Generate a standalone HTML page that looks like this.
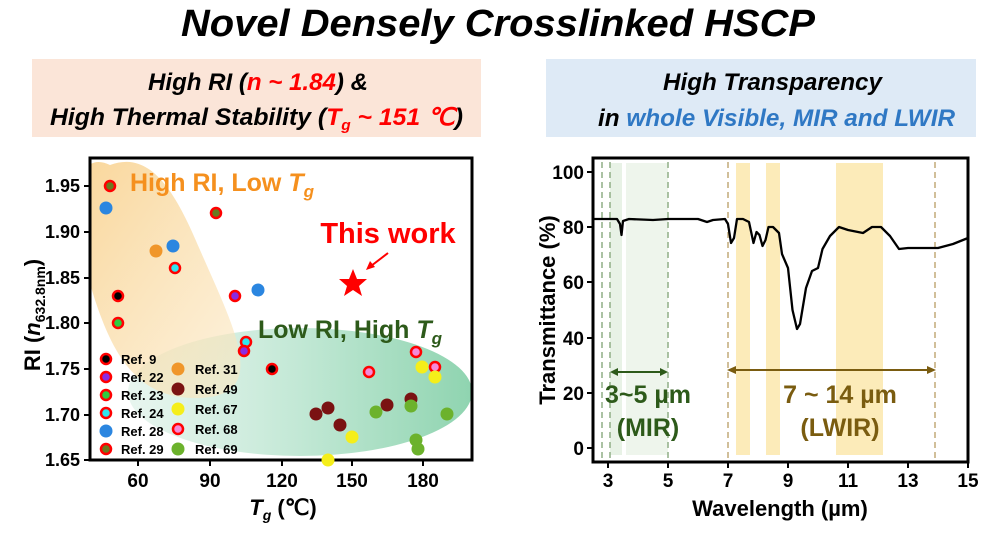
<!DOCTYPE html>
<html><head><meta charset="utf-8"><style>
html,body{margin:0;padding:0;background:#fff;}
svg text{font-family:"Liberation Sans",sans-serif;font-weight:bold;}
</style></head><body>
<svg width="996" height="533" viewBox="0 0 996 533" xmlns="http://www.w3.org/2000/svg">
<defs>
<linearGradient id="gg" x1="0" x2="1" y1="0" y2="0"><stop offset="0" stop-color="#d8efe4" stop-opacity="0.6"/><stop offset="0.5" stop-color="#c2e8d5"/><stop offset="1" stop-color="#8fd4b0"/></linearGradient>
<linearGradient id="og" x1="0" x2="1" y1="0" y2="1"><stop offset="0" stop-color="#f8cf88"/><stop offset="1" stop-color="#fbe9c6" stop-opacity="0.7"/></linearGradient>
</defs>
<text x="498" y="36" font-size="38" font-style="italic" text-anchor="middle" textLength="634" lengthAdjust="spacingAndGlyphs">Novel Densely Crosslinked HSCP</text>
<rect x="32" y="59" width="449" height="78" fill="#fbe5d8"/>
<rect x="546" y="59" width="430" height="78" fill="#deeaf6"/>
<g font-size="24" font-style="italic">
<text x="148" y="90" textLength="220" lengthAdjust="spacingAndGlyphs">High RI (<tspan fill="#f00">n ~ 1.84</tspan>) &amp;</text>
<text x="50" y="125" textLength="413" lengthAdjust="spacingAndGlyphs">High Thermal Stability (<tspan fill="#f00">T<tspan font-size="15" dy="5">g</tspan><tspan dy="-5">  ~  151 ℃</tspan></tspan>)</text>
<text x="663" y="90" textLength="219" lengthAdjust="spacingAndGlyphs">High Transparency</text>
<text x="598" y="126" textLength="357" lengthAdjust="spacingAndGlyphs">in <tspan fill="#2f78c4">whole Visible, MIR and LWIR</tspan></text>
</g>
<!-- LEFT PLOT -->
<clipPath id="cl"><rect x="90" y="158" width="382" height="302"/></clipPath>
<g clip-path="url(#cl)">
<ellipse cx="300" cy="392" rx="172" ry="64" fill="url(#gg)"/>
<path d="M110 165 C 80 150, 60 190, 95 300 C 115 360, 140 400, 200 398 C 270 395, 235 330, 200 250 C 175 190, 150 150, 110 165 Z" fill="url(#og)" opacity="0.85"/>
</g>
<rect x="90" y="158" width="382" height="302" fill="none" stroke="#000" stroke-width="3"/>
<g stroke="#000" stroke-width="2">
<line x1="84" y1="186" x2="90" y2="186"/><line x1="84" y1="232" x2="90" y2="232"/><line x1="84" y1="278" x2="90" y2="278"/><line x1="84" y1="323" x2="90" y2="323"/><line x1="84" y1="369" x2="90" y2="369"/><line x1="84" y1="415" x2="90" y2="415"/><line x1="84" y1="460" x2="90" y2="460"/>
<line x1="138" y1="460" x2="138" y2="466"/><line x1="210" y1="460" x2="210" y2="466"/><line x1="282" y1="460" x2="282" y2="466"/><line x1="352" y1="460" x2="352" y2="466"/><line x1="423" y1="460" x2="423" y2="466"/>
</g>
<g font-size="18" text-anchor="end">
<text x="80" y="192">1.95</text><text x="80" y="238">1.90</text><text x="80" y="284">1.85</text><text x="80" y="329">1.80</text><text x="80" y="375">1.75</text><text x="80" y="421">1.70</text><text x="80" y="466">1.65</text>
</g>
<g font-size="19" text-anchor="middle">
<text x="138" y="487">60</text><text x="210" y="487">90</text><text x="282" y="487">120</text><text x="352" y="487">150</text><text x="423" y="487">180</text>
</g>
<text x="283" y="515" font-size="22" text-anchor="middle"><tspan font-style="italic">T<tspan font-size="14" dy="5">g</tspan></tspan><tspan dy="-5"> (℃)</tspan></text>
<text transform="translate(40,315) rotate(-90)" font-size="22" text-anchor="middle">RI (<tspan font-style="italic">n</tspan><tspan font-size="14" dy="5">632.8nm</tspan><tspan dy="-5">)</tspan></text>
<text x="130" y="191" font-size="25" fill="#f5901e">High RI, Low <tspan font-style="italic">T<tspan font-size="17" dy="6">g</tspan></tspan></text>
<text x="258" y="338" font-size="25" fill="#2d5a1a">Low RI, High <tspan font-style="italic">T<tspan font-size="17" dy="6">g</tspan></tspan></text>
<text x="388" y="243" font-size="29" fill="#f00" text-anchor="middle">This work</text>
<line x1="388" y1="253" x2="371" y2="266" stroke="#f00" stroke-width="2"/><path d="M366 270 L370 261 L375 267 Z" fill="#f00"/>
<path d="M353 269 L357 279 L367 279 L359 286 L362 296 L353 290 L344 296 L347 286 L339 279 L349 279 Z" fill="#f00"/>
<g stroke="#f00" stroke-width="2.5">
<circle cx="110" cy="186" r="5" fill="#6b7a20"/><circle cx="216" cy="213" r="5" fill="#6b7a20"/>
<circle cx="175" cy="268" r="5" fill="#2ee6f0"/><circle cx="246" cy="342" r="5" fill="#2ee6f0"/>
<circle cx="118" cy="296" r="5" fill="#000"/><circle cx="272" cy="369" r="5" fill="#000"/>
<circle cx="235" cy="296" r="5" fill="#8a2be2"/><circle cx="244" cy="351" r="5" fill="#8a2be2"/>
<circle cx="118" cy="323" r="5" fill="#2ecc40"/>
<circle cx="416" cy="352" r="5" fill="#f58ad8"/><circle cx="435" cy="367" r="5" fill="#f58ad8"/><circle cx="369" cy="372" r="5" fill="#f58ad8"/>
</g>
<g>
<circle cx="106" cy="208" r="6.5" fill="#2b86e0"/><circle cx="173" cy="246" r="6.5" fill="#2b86e0"/><circle cx="258" cy="290" r="6.5" fill="#2b86e0"/>
<circle cx="156" cy="251" r="6.5" fill="#f0962a"/>
<circle cx="422" cy="367" r="6.5" fill="#f5ee1a"/><circle cx="435" cy="377" r="6.5" fill="#f5ee1a"/><circle cx="352" cy="437" r="6.5" fill="#f5ee1a"/><circle cx="328" cy="460" r="6.5" fill="#f5ee1a"/>
<circle cx="316" cy="414" r="6.5" fill="#7a1212"/><circle cx="328" cy="408" r="6.5" fill="#7a1212"/><circle cx="340" cy="425" r="6.5" fill="#7a1212"/><circle cx="387" cy="405" r="6.5" fill="#7a1212"/><circle cx="411" cy="399" r="6.5" fill="#7a1212"/>
<circle cx="376" cy="412" r="6.5" fill="#6cb22c"/><circle cx="411" cy="406" r="6.5" fill="#6cb22c"/><circle cx="447" cy="414" r="6.5" fill="#6cb22c"/><circle cx="416" cy="440" r="6.5" fill="#6cb22c"/><circle cx="418" cy="449" r="6.5" fill="#6cb22c"/>
</g>
<g stroke="#f00" stroke-width="2.5">
<circle cx="106" cy="359" r="5" fill="#000"/><circle cx="106" cy="377" r="5" fill="#8a2be2"/><circle cx="106" cy="395" r="5" fill="#2ecc40"/><circle cx="106" cy="413" r="5" fill="#2ee6f0"/><circle cx="106" cy="449" r="5" fill="#6b7a20"/>
<circle cx="178" cy="429" r="5" fill="#f58ad8"/>
</g>
<circle cx="106" cy="431" r="6.5" fill="#2b86e0"/>
<circle cx="178" cy="369" r="6.5" fill="#f0962a"/><circle cx="178" cy="389" r="6.5" fill="#7a1212"/><circle cx="178" cy="409" r="6.5" fill="#f5ee1a"/><circle cx="178" cy="449" r="6.5" fill="#6cb22c"/>
<g font-size="13">
<text x="121" y="364">Ref. 9</text><text x="121" y="382">Ref. 22</text><text x="121" y="400">Ref. 23</text><text x="121" y="418">Ref. 24</text><text x="121" y="436">Ref. 28</text><text x="121" y="454">Ref. 29</text>
<text x="195" y="374">Ref. 31</text><text x="195" y="394">Ref. 49</text><text x="195" y="414">Ref. 67</text><text x="195" y="434">Ref. 68</text><text x="195" y="454">Ref. 69</text>
</g>
<!-- RIGHT PLOT -->
<g>
<rect x="610" y="163" width="12" height="292" fill="#e8f2e6"/>
<rect x="626" y="163" width="42" height="292" fill="#eef5ec"/>
<rect x="736" y="163" width="14" height="292" fill="#fcebb9"/>
<rect x="766" y="163" width="14" height="292" fill="#fcebb9"/>
<rect x="836" y="163" width="47" height="292" fill="#fcebb9"/>
</g>
<g stroke-dasharray="6,4" stroke-width="1.5">
<line x1="602" y1="162" x2="602" y2="458" stroke="#8fae86"/><line x1="610" y1="162" x2="610" y2="458" stroke="#8fae86"/><line x1="668" y1="162" x2="668" y2="458" stroke="#8fae86"/>
<line x1="728" y1="162" x2="728" y2="458" stroke="#c2aa78"/><line x1="935" y1="162" x2="935" y2="458" stroke="#c2aa78"/>
</g>
<polyline fill="none" stroke="#000" stroke-width="2.3" stroke-linejoin="round" points="593,219 617,219 620,224 621.5,235 623,221 629,219 653,220 668,219 698,219 707,222 713,220 725,219 728,224 731,243 734,238 737,219 743,219 749,222 753.5,243 756.5,232 759.5,235 762.5,246 765.5,240 768.5,227 773,227 779,233 782,254 788,268 792.5,310 797,329 800,324 806,288 812,271 818,268 822.5,249 830,236 839,227 848,230 863,233 872,227 881,227 890,236 899,249 908,248 923,248 938,248 953,244 968,238"/>
<rect x="593" y="158" width="375" height="304" fill="none" stroke="#000" stroke-width="3"/>
<g stroke="#000" stroke-width="2">
<line x1="587" y1="172" x2="593" y2="172"/><line x1="587" y1="227" x2="593" y2="227"/><line x1="587" y1="282" x2="593" y2="282"/><line x1="587" y1="338" x2="593" y2="338"/><line x1="587" y1="393" x2="593" y2="393"/><line x1="587" y1="448" x2="593" y2="448"/>
<line x1="608" y1="462" x2="608" y2="468"/><line x1="668" y1="462" x2="668" y2="468"/><line x1="728" y1="462" x2="728" y2="468"/><line x1="788" y1="462" x2="788" y2="468"/><line x1="848" y1="462" x2="848" y2="468"/><line x1="908" y1="462" x2="908" y2="468"/><line x1="968" y1="462" x2="968" y2="468"/>
</g>
<g font-size="19" text-anchor="end">
<text x="584" y="179">100</text><text x="584" y="234">80</text><text x="584" y="289">60</text><text x="584" y="345">40</text><text x="584" y="400">20</text><text x="584" y="455">0</text>
</g>
<g font-size="19" text-anchor="middle">
<text x="608" y="487">3</text><text x="668" y="487">5</text><text x="728" y="487">7</text><text x="788" y="487">9</text><text x="848" y="487">11</text><text x="908" y="487">13</text><text x="968" y="487">15</text>
</g>
<text x="780" y="516" font-size="22" text-anchor="middle">Wavelength (µm)</text>
<text transform="translate(555,310) rotate(-90)" font-size="22" text-anchor="middle">Transmittance (%)</text>
<line x1="614" y1="372" x2="664" y2="372" stroke="#2d5a1a" stroke-width="2"/>
<path d="M610 372 L618 368 L618 376 Z M668 372 L660 368 L660 376 Z" fill="#2d5a1a"/>
<line x1="732" y1="370" x2="931" y2="370" stroke="#7a5c10" stroke-width="2"/>
<path d="M727 370 L736 366 L736 374 Z M936 370 L927 366 L927 374 Z" fill="#7a5c10"/>
<g font-size="25" text-anchor="middle">
<text x="648" y="403" fill="#2d5a1a">3~5 µm</text><text x="648" y="436" fill="#2d5a1a">(MIR)</text>
<text x="840" y="403" fill="#7a5c10">7 ~ 14 µm</text><text x="840" y="436" fill="#7a5c10">(LWIR)</text>
</g>
</svg>
</body></html>
